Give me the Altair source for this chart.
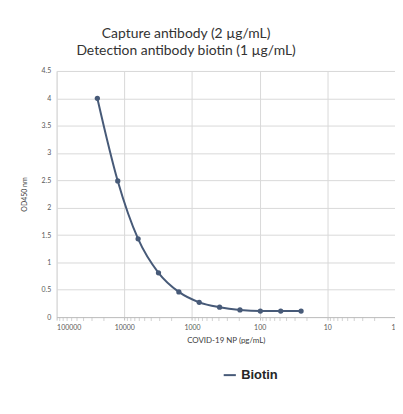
import altair as alt
import pandas as pd

conc = [25000, 12500, 6250, 3125, 1562.5, 781.25, 390.625, 195.3125, 97.65625, 48.828125, 24.4140625]
od450 = [4.00, 2.49, 1.43, 0.81, 0.46, 0.27, 0.18, 0.13, 0.11, 0.11, 0.11]
series = ["Biotin"] * len(conc)
x_ticks = [100000, 10000, 1000, 100, 10, 1]
x_minor = [m * d for d in [1, 10, 100, 1000, 10000] for m in range(2, 10)]
y_ticks = [0, 0.5, 1, 1.5, 2, 2.5, 3, 3.5, 4, 4.5]
title_lines = ["Capture antibody (2 µg/mL)", "Detection antibody biotin (1 µg/mL)"]

df = pd.DataFrame({"conc": conc, "od": od450, "series": series})
COL = "#475a78"
FONT = "Lato"

xscale = alt.Scale(type="log", domain=[1, 100000], reverse=True, nice=False)
yscale = alt.Scale(domain=[0, 4.5], nice=False, zero=True)

xaxis = alt.Axis(values=x_ticks, format="d", title="COVID-19 NP (pg/mL)",
                 grid=True, gridColor="#d9d9d9", domainColor="#bfbfbf",
                 tickColor="#bfbfbf", tickSize=3, labelFontSize=7,
                 labelColor="#595959", labelFont=FONT, titleFont=FONT,
                 titleFontSize=8, titleFontWeight="normal", titleColor="#404040",
                 titlePadding=6, labelPadding=4)
yaxis = alt.Axis(values=y_ticks, format="~g", title="OD450 nm", grid=True, gridColor="#d9d9d9",
                 domain=False, ticks=False, labelFontSize=7, labelColor="#595959",
                 labelFont=FONT, titleFont=FONT, titleFontSize=7, labelOverlap=False,
                 titleFontWeight="normal", titleColor="#404040", titlePadding=14,
                 labelPadding=6)

base = alt.Chart(df)

line = base.mark_line(interpolate="monotone", strokeWidth=2).encode(
    x=alt.X("conc:Q", scale=xscale, axis=xaxis),
    y=alt.Y("od:Q", scale=yscale, axis=yaxis),
    color=alt.Color("series:N", scale=alt.Scale(range=[COL]),
                    legend=alt.Legend(orient="none", legendX=167, legendY=299, title=None,
                                      symbolType="stroke", symbolStrokeWidth=2, symbolSize=150,
                                      labelFont="Liberation Sans", labelFontSize=13,
                                      labelFontWeight="bold", labelColor="#262626")),
)

points = base.mark_circle(size=28, opacity=1, color=COL).encode(
    x=alt.X("conc:Q", scale=xscale, axis=xaxis),
    y=alt.Y("od:Q", scale=yscale, axis=yaxis),
)

minor_df = pd.DataFrame({"m": x_minor})
minor = alt.Chart(minor_df).mark_tick(color="#bfbfbf", size=4, thickness=1, orient="vertical").encode(
    x=alt.X("m:Q", scale=xscale, axis=xaxis),
    y=alt.value(250),
)

chart = alt.layer(line, minor, points).properties(
    width=341, height=248,
    title=alt.TitleParams(text=title_lines, font=FONT, fontSize=14, fontWeight="normal",
                          color="#333333", anchor="middle", dx=-40, offset=9, lineHeight=17),
    autosize=alt.AutoSizeParams(type="none"),
    padding={"left": 49, "top": 62, "right": 0, "bottom": 70},
).configure_view(stroke=None).configure(background="white")

chart.save("out.html", embed_options={"renderer": "svg", "actions": False})
